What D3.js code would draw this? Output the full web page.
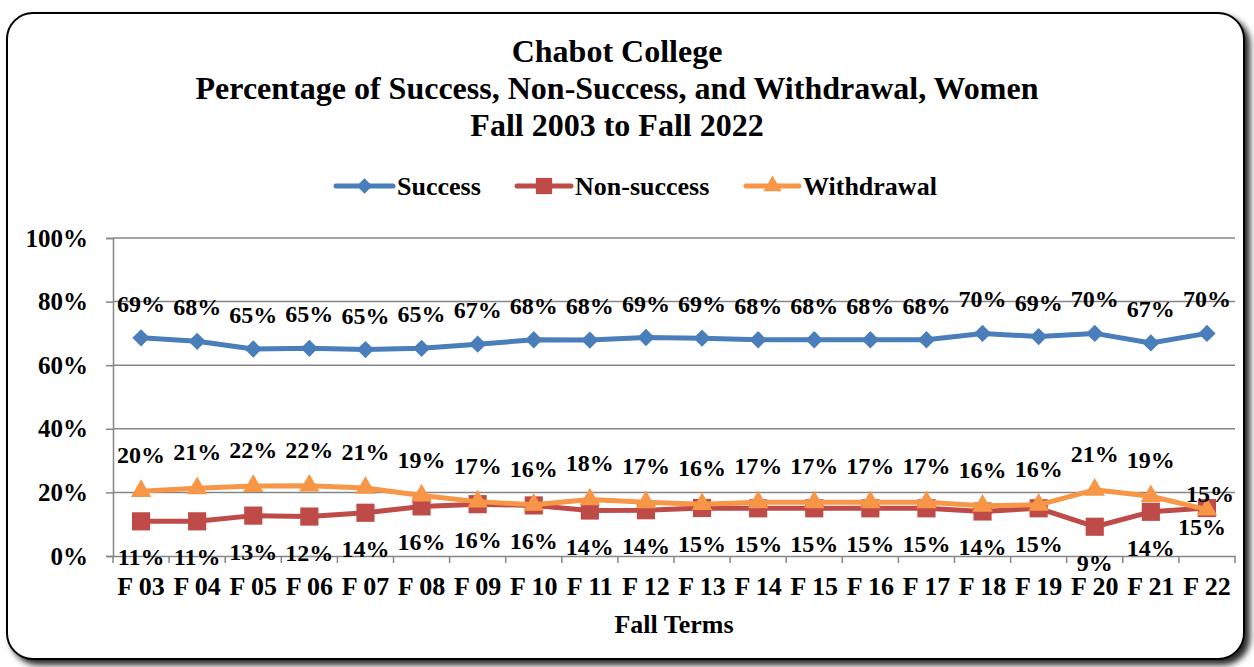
<!DOCTYPE html>
<html><head><meta charset="utf-8">
<script src="https://cdn.jsdelivr.net/npm/d3@7"></script>
<style>html,body{margin:0;padding:0;background:#fff;}</style>
</head>
<body><svg id="c" width="1254" height="667"></svg>
<script>
const categories = ["F 03","F 04","F 05","F 06","F 07","F 08","F 09","F 10","F 11","F 12","F 13","F 14","F 15","F 16","F 17","F 18","F 19","F 20","F 21","F 22"];
const success =    [68.6,67.5,65.1,65.3,64.9,65.3,66.6,68.0,67.9,68.7,68.5,68.0,68.0,68.0,68.0,70.0,69.0,70.0,67.0,70.0];
const successLbl = ["69%","68%","65%","65%","65%","65%","67%","68%","68%","69%","69%","68%","68%","68%","68%","70%","69%","70%","67%","70%"];
const nonSuccess = [10.9,10.9,12.7,12.4,13.6,15.6,16.3,15.9,14.3,14.4,15.1,15.0,15.0,15.0,15.0,14.0,15.0,9.2,13.9,15.1];
const nonSuccessLbl = ["11%","11%","13%","12%","14%","16%","16%","16%","14%","14%","15%","15%","15%","15%","15%","14%","15%","9%","14%","15%"];
const withdrawal = [20.4,21.3,22.0,22.1,21.4,19.0,17.1,16.1,17.8,16.9,16.3,16.9,16.9,16.9,16.9,15.8,16.1,20.8,18.8,14.6];
const withdrawalLbl = ["20%","21%","22%","22%","21%","19%","17%","16%","18%","17%","16%","17%","17%","17%","17%","16%","16%","21%","19%","15%"];
const yTicks = [0,20,40,60,80,100];
const titleLines = ["Chabot College","Percentage of Success, Non-Success, and Withdrawal, Women","Fall 2003 to Fall 2022"];
const seriesNames = ["Success","Non-success","Withdrawal"];
const seriesColors = ["#4A7EBB","#BE4B48","#F79646"];

const FONT = "Liberation Serif";
const svg = d3.select("#c");
const defs = svg.append("defs");
const f = defs.append("filter").attr("id","sh").attr("x","-5%").attr("y","-5%").attr("width","115%").attr("height","115%");
f.append("feGaussianBlur").attr("in","SourceAlpha").attr("stdDeviation",3);
f.append("feOffset").attr("dx",5).attr("dy",5).attr("result","ob");
f.append("feFlood").attr("flood-color","#000").attr("flood-opacity",0.85);
f.append("feComposite").attr("in2","ob").attr("operator","in");
const fm = f.append("feMerge"); fm.append("feMergeNode"); fm.append("feMergeNode").attr("in","SourceGraphic");
svg.append("rect").attr("x",7).attr("y",13).attr("width",1237).attr("height",646).attr("rx",26).attr("ry",26)
  .attr("fill","#fff").attr("stroke","#000").attr("stroke-width",2).attr("filter","url(#sh)");

const x = d3.scaleBand().domain(categories).range([113,1235]);
const y = d3.scaleLinear().domain([0,100]).range([556,238]);
const cx = d => x(d)+x.bandwidth()/2;

svg.append("g").selectAll("text").data(titleLines).join("text")
  .attr("x",617).attr("y",(d,i)=>62+i*37).attr("text-anchor","middle").attr("font-size",32).text(d=>d);

svg.append("g").selectAll("line").data(yTicks.slice(1)).join("line")
  .attr("x1",113).attr("x2",1235).attr("y1",d=>y(d)).attr("y2",d=>y(d)).attr("stroke","#868686").attr("stroke-width",1.5);

const ya = svg.append("g").attr("transform","translate(113,0)")
  .call(d3.axisLeft(y).tickValues(yTicks).tickSize(7).tickPadding(18).tickFormat(d=>d+"%"));
ya.select(".domain").attr("stroke","#868686").attr("stroke-width",1.5);
ya.selectAll(".tick line").attr("stroke","#868686").attr("stroke-width",1.5);
ya.selectAll("text").attr("font-size",25);

const xa = svg.append("g").attr("transform","translate(0,556)")
  .call(d3.axisBottom(x).tickSize(0).tickPadding(21));
xa.select(".domain").attr("stroke","#868686").attr("stroke-width",1.5);
xa.selectAll("text").attr("font-size",26);
svg.append("g").selectAll("line").data(d3.range(categories.length+1)).join("line")
  .attr("x1",i=>113+i*x.step()).attr("x2",i=>113+i*x.step()).attr("y1",556).attr("y2",563)
  .attr("stroke","#868686").attr("stroke-width",1.5);

svg.append("text").attr("x",674).attr("y",633).attr("text-anchor","middle").attr("font-size",26).text("Fall Terms");

const line = d3.line().x((d,i)=>cx(categories[i])).y(d=>y(d));
const sets = [success,nonSuccess,withdrawal];
const labels = [successLbl,nonSuccessLbl,withdrawalLbl];
const symDiamond = {draw(ctx,size){const r=Math.sqrt(size/2);ctx.moveTo(0,-r);ctx.lineTo(r,0);ctx.lineTo(0,r);ctx.lineTo(-r,0);ctx.closePath();}};
const markers = [symDiamond,d3.symbolSquare,d3.symbolTriangle];
const msz = [150,330,180];

sets.forEach((vals,s)=>{
  const g = svg.append("g");
  g.append("path").datum(vals).attr("d",line).attr("fill","none").attr("stroke",seriesColors[s]).attr("stroke-width",5).attr("stroke-linejoin","round");
  g.selectAll("path.m").data(vals).join("path").attr("class","m")
    .attr("transform",(d,i)=>`translate(${cx(categories[i])},${y(d)})`)
    .attr("d",d3.symbol().type(markers[s]).size(msz[s])).attr("fill",seriesColors[s]);
});

// label offsets: success above, non-success below, withdrawal above; last point nudged as in the original
const off = [-26,44,-28];
const lastOff = [[0,-26],[-5,27],[3,-8]];
const last = categories.length-1;
sets.forEach((vals,s)=>{
  svg.append("g").selectAll("text").data(vals).join("text")
    .attr("x",(d,i)=>cx(categories[i]) + (i===last ? lastOff[s][0] : 0))
    .attr("y",(d,i)=>y(d)+ (i===last ? lastOff[s][1] : off[s]))
    .attr("text-anchor","middle").attr("font-size",24).text((d,i)=>labels[s][i]);
});

const lg = svg.append("g");
const lx = [336,517,746], tx=[397,575,803];
seriesNames.forEach((n,i)=>{
  lg.append("line").attr("x1",lx[i]).attr("x2",tx[i]-4).attr("y1",186).attr("y2",186).attr("stroke",seriesColors[i]).attr("stroke-width",5).attr("stroke-linecap","round");
  lg.append("path").attr("transform",`translate(${(lx[i]+tx[i]-4)/2},186)`).attr("d",d3.symbol().type(markers[i]).size(msz[i]*0.8)).attr("fill",seriesColors[i]);
  lg.append("text").attr("x",tx[i]).attr("y",195).attr("font-size",26).text(n);
});

svg.selectAll("text").attr("font-family",FONT).attr("font-weight","bold").attr("fill","#000");
</script></body></html>
